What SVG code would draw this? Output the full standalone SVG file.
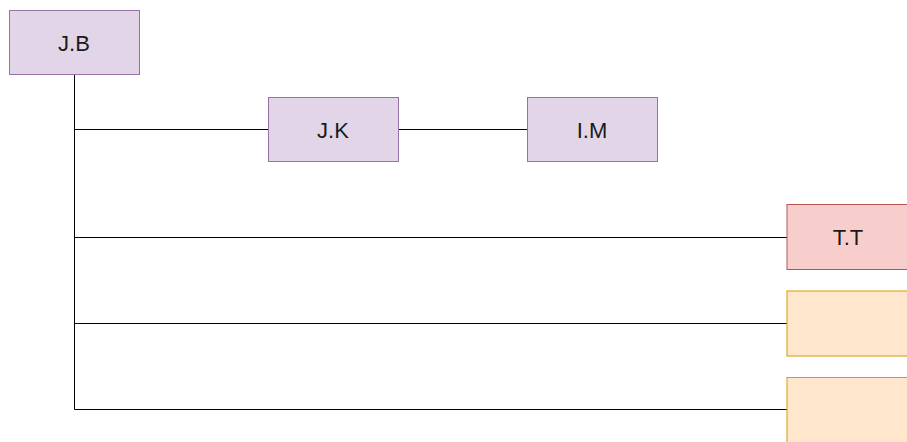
<svg xmlns="http://www.w3.org/2000/svg" width="907" height="442" viewBox="0 0 907 442">
<style>
.p{fill:#e1d5e7;stroke:#9673a6;stroke-width:1}
.r{fill:#f8cecc;stroke:#b85450;stroke-width:1}
.o{fill:#ffe6cc;stroke:#d79b00;stroke-width:1}
.e{fill:none;stroke:#000;stroke-width:1}
text{font-family:"Liberation Sans",Arial,sans-serif;font-size:22px;fill:#1a1a1a;text-anchor:middle;dominant-baseline:central}
</style>
<rect width="907" height="442" fill="#fff"/>
<g id="connectors">
<path class="e" d="M74.5 74.5V409.5H787"/>
<path class="e" d="M74.5 129.5H268"/>
<path class="e" d="M398 129.5H528"/>
<path class="e" d="M74.5 237.5H787"/>
<path class="e" d="M74.5 323.5H787"/>
</g>
<g id="jb"><rect class="p" x="9.5" y="10.5" width="130" height="64"/><text x="74" y="43">J.B</text></g>
<g id="jk"><rect class="p" x="268.5" y="97.5" width="130" height="64"/><text x="333" y="130">J.K</text></g>
<g id="im"><rect class="p" x="527.5" y="97.5" width="130" height="64"/><text x="592" y="130">I.M</text></g>
<g id="tt"><rect class="r" x="787" y="204.5" width="130" height="65"/><text x="848" y="237.5">T.T</text></g>
<g id="n5"><rect class="o" x="787" y="291" width="130" height="65"/></g>
<g id="n6"><rect class="o" x="787" y="377.5" width="130" height="65"/></g>
</svg>
